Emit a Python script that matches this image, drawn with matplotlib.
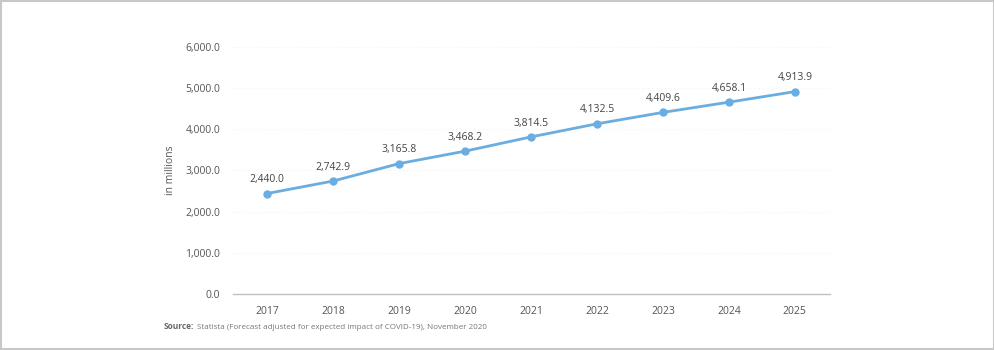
import matplotlib.pyplot as plt
from matplotlib.patches import Rectangle

plt.rcParams['font.family'] = ['Open Sans', 'DejaVu Sans']

# data
years = [2017, 2018, 2019, 2020, 2021, 2022, 2023, 2024, 2025]
values = [2440.0, 2742.9, 3165.8, 3468.2, 3814.5, 4132.5, 4409.6, 4658.1, 4913.9]
yticks = [0, 1000, 2000, 3000, 4000, 5000, 6000]

line_color = '#6aade0'
text_color = '#555555'

fig = plt.figure(figsize=(9.95, 3.5), dpi=100)
ax = fig.add_axes([0.234, 0.16, 0.600, 0.706])

ax.plot(years, values, color=line_color, lw=2, marker='o', ms=5,
        markeredgecolor=line_color, zorder=3)
for x, v in zip(years, values):
    ax.annotate(f'{v:,.1f}', (x, v), xytext=(0, 6), textcoords='offset points',
                ha='center', va='bottom', fontsize=7.5, color='#444444')

ax.set_xlim(years[0] - 0.52, years[-1] + 0.53)
ax.set_ylim(0, 6000)
ax.set_xticks(years)
ax.set_xticklabels([str(y) for y in years])
ax.set_yticks(yticks)
ax.set_yticklabels([f'{t:,.1f}' for t in yticks])
ax.tick_params(axis='both', length=0, labelsize=7.5, labelcolor=text_color)
ax.tick_params(axis='x', pad=9)
ax.tick_params(axis='y', pad=9)
ax.set_ylabel('in millions', fontsize=7.5, color=text_color, labelpad=7)

ax.grid(axis='y', color='#f7f7f7', lw=0.8, ls=(0, (2, 2)))
ax.set_axisbelow(True)
for side in ['top', 'right', 'left']:
    ax.spines[side].set_visible(False)
ax.spines['bottom'].set_color('#c0c0c0')
ax.spines['bottom'].set_linewidth(1)

fig.text(0.164, 0.06, 'Source:', fontsize=6, color='#666666', fontweight='bold')
fig.text(0.198, 0.06, 'Statista (Forecast adjusted for expected impact of COVID-19), November 2020',
         fontsize=5.8, color='#777777')

# outer frame
fig.patches.append(Rectangle((0.001, 0.003), 0.998, 0.994, transform=fig.transFigure,
                             fill=False, edgecolor='#c8c8c8', lw=1.5))

fig.savefig('out.png', dpi=100)
